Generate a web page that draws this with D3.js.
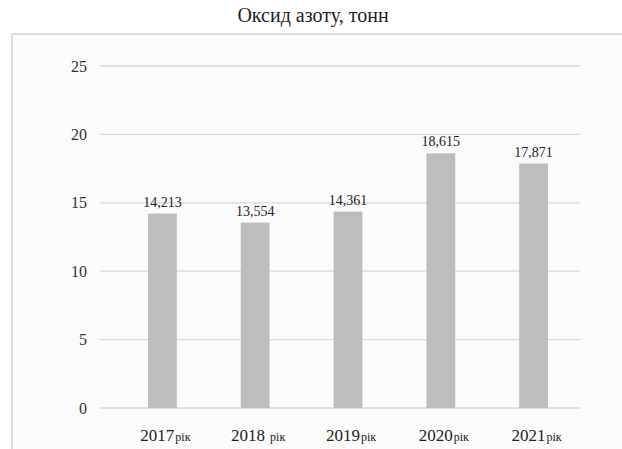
<!DOCTYPE html>
<html>
<head>
<meta charset="utf-8">
<script src="https://cdn.jsdelivr.net/npm/d3@7"></script>
<style>
  body { margin: 0; background: #fff; }
  svg { display: block; font-family: "Liberation Serif", "Times New Roman", serif; }
</style>
</head>
<body>
<div id="chart"></div>
<script>
// chart data
var years = ["2017", "2018", "2019", "2020", "2021"];
var values = [14.213, 13.554, 14.361, 18.615, 17.871];
var valueLabels = ["14,213", "13,554", "14,361", "18,615", "17,871"];
var yTicks = [0, 5, 10, 15, 20, 25];

var width = 622, height = 449;
var font = "Liberation Serif";

var svg = d3.select("#chart").append("svg")
            .attr("width", width)
            .attr("height", height);

// frame
svg.append("rect")
   .attr("x", 12).attr("y", 34)
   .attr("width", 620).attr("height", 420)
   .attr("fill", "#fbfbfb")
   .attr("stroke", "#dcdcdc")
   .attr("stroke-width", 2);

svg.append("text")
   .attr("x", 313).attr("y", 22)
   .attr("text-anchor", "middle")
   .attr("font-family", font)
   .attr("font-size", 20)
   .attr("fill", "#1e1e1e")
   .text("Оксид азоту, тонн");

var y = d3.scaleLinear().domain([0, 25]).range([408, 66]);
var x = d3.scaleBand().domain(years).range([116, 580]).paddingInner(0.69).paddingOuter(0.345);

// gridlines
svg.append("g").selectAll("line")
   .data(yTicks)
   .enter()
   .append("line")
   .attr("x1", 100).attr("x2", 580)
   .attr("y1", function(d) { return y(d); })
   .attr("y2", function(d) { return y(d); })
   .attr("stroke", "#d9d9d9")
   .attr("stroke-width", 1.3);

// y axis labels
var yAxis = d3.axisLeft(y).tickValues(yTicks).tickSize(0).tickPadding(0);
var gy = svg.append("g").attr("transform", "translate(87,0)").call(yAxis)
            .attr("font-family", font).attr("font-size", 16);
gy.select(".domain").remove();
gy.selectAll("text").attr("fill", "#333");

// bars
svg.append("g").selectAll("rect")
   .data(values)
   .enter()
   .append("rect")
   .attr("x", function(d, i) { return x(years[i]); })
   .attr("y", function(d) { return y(d); })
   .attr("width", x.bandwidth())
   .attr("height", function(d) { return y(0) - y(d); })
   .attr("fill", "#bdbdbf");

// value labels
svg.append("g").selectAll("text")
   .data(values)
   .enter()
   .append("text")
   .attr("x", function(d, i) { return x(years[i]) + x.bandwidth() / 2; })
   .attr("y", function(d) { return y(d) - 7; })
   .attr("text-anchor", "middle")
   .attr("font-family", font)
   .attr("font-size", 14)
   .attr("fill", "#222")
   .text(function(d, i) { return valueLabels[i]; });

// x axis labels
var xl = svg.append("g").selectAll("text")
   .data(years)
   .enter()
   .append("text")
   .attr("x", function(d) { return x(d) + x.bandwidth() / 2 + 3; })
   .attr("y", 441)
   .attr("text-anchor", "middle")
   .attr("font-family", font)
   .attr("fill", "#222");
xl.append("tspan").attr("font-size", 17).text(function(d) { return d; });
xl.append("tspan").attr("font-size", 12).attr("dx", function(d, i) { return i == 1 ? 5 : 1; }).text("рік");
</script>
</body>
</html>
